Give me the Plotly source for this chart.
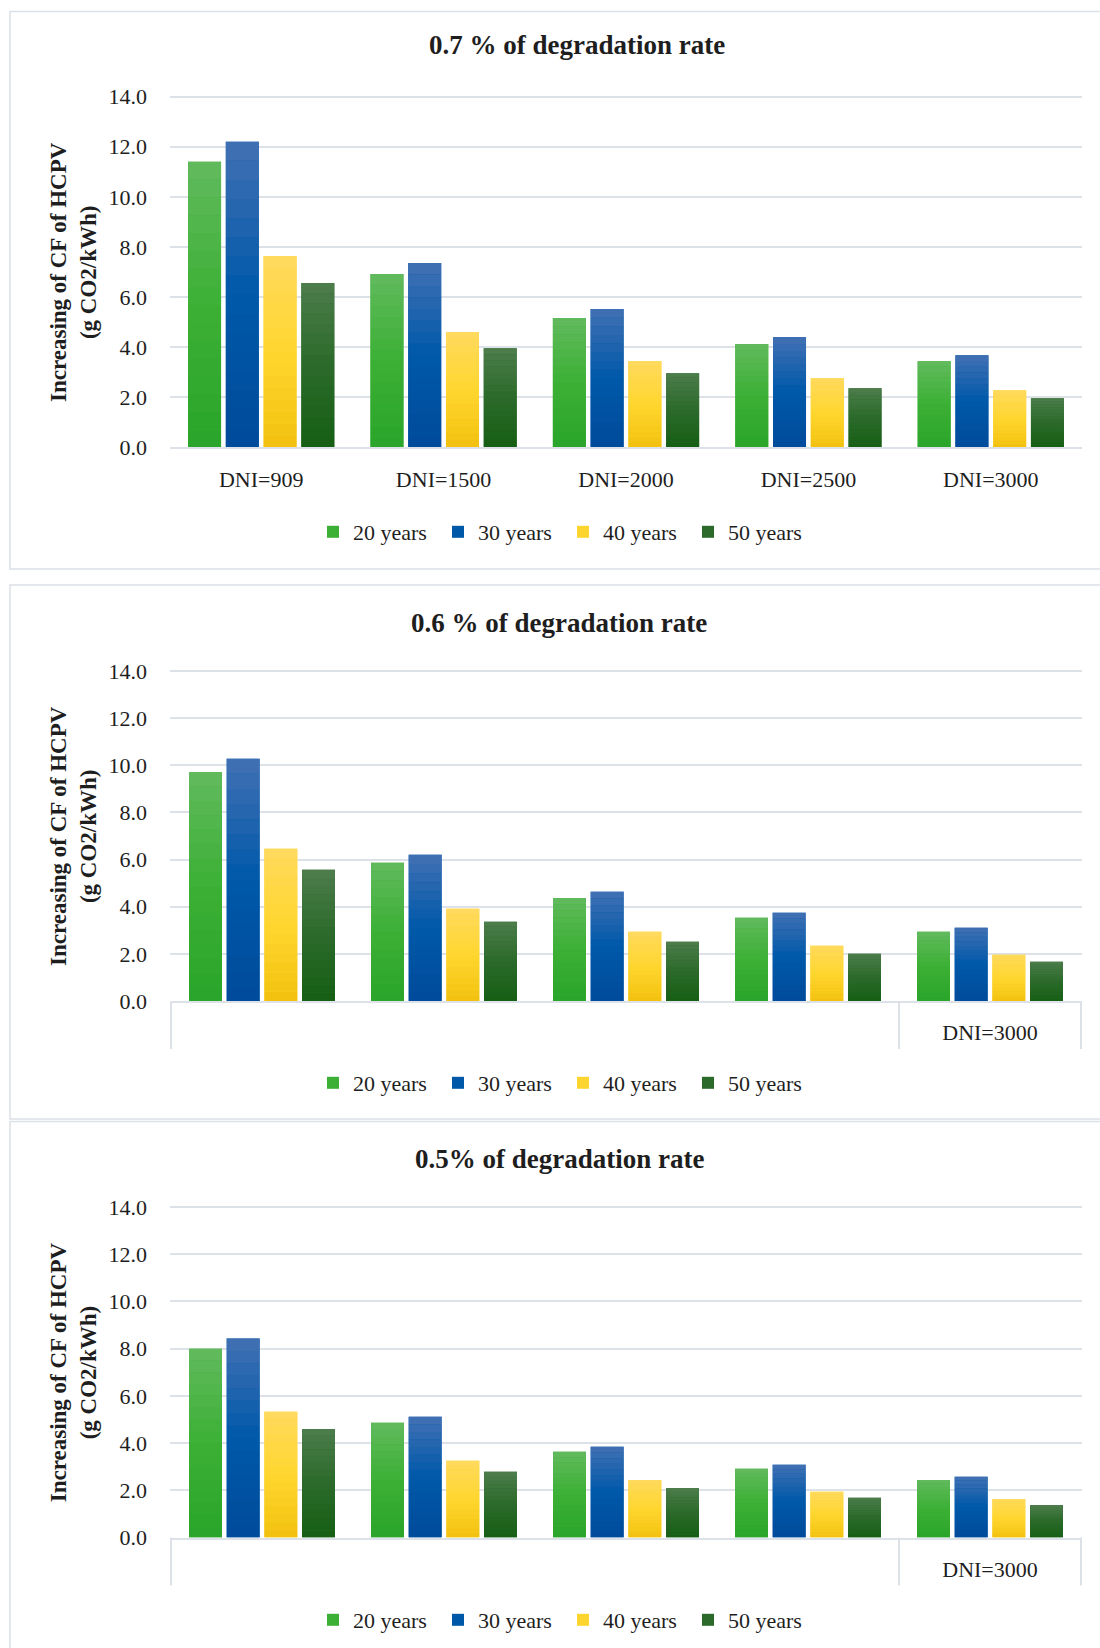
import plotly.graph_objects as go

# ---------------------------------------------------------------- data
categories = ["DNI=909", "DNI=1500", "DNI=2000", "DNI=2500", "DNI=3000"]
series_names = ["20 years", "30 years", "40 years", "50 years"]

# 0.7 % degradation rate
rate07_20y = [11.40, 6.92, 5.16, 4.12, 3.44]
rate07_30y = [12.20, 7.36, 5.52, 4.40, 3.68]
rate07_40y = [7.64, 4.60, 3.44, 2.76, 2.28]
rate07_50y = [6.56, 3.96, 2.96, 2.36, 1.96]

# 0.6 % degradation rate
rate06_20y = [9.70, 5.86, 4.37, 3.53, 2.94]
rate06_30y = [10.28, 6.20, 4.64, 3.74, 3.11]
rate06_40y = [6.46, 3.91, 2.94, 2.34, 1.96]
rate06_50y = [5.57, 3.36, 2.51, 2.00, 1.66]

# 0.5 % degradation rate
rate05_20y = [8.00, 4.86, 3.63, 2.91, 2.44]
rate05_30y = [8.43, 5.11, 3.84, 3.08, 2.57]
rate05_40y = [5.33, 3.25, 2.44, 1.94, 1.63]
rate05_50y = [4.60, 2.78, 2.10, 1.68, 1.38]

panel_titles = ["0.7 % of degradation rate",
                "0.6 % of degradation rate",
                "0.5% of degradation rate"]
y_title = "Increasing of CF of HCPV<br>(g CO2/kWh)"
y_tick_values = [0, 2, 4, 6, 8, 10, 12, 14]
y_max = 14.0

panels = [
    [rate07_20y, rate07_30y, rate07_40y, rate07_50y],
    [rate06_20y, rate06_30y, rate06_40y, rate06_50y],
    [rate05_20y, rate05_30y, rate05_40y, rate05_50y],
]

# ---------------------------------------------------------------- style
W, H = 1100, 1648
FONT = "Liberation Serif"
TEXT = "#1e1e1e"
GRID = "#dde2e9"
FRAME = "#dbe1e8"
series_colors = ["#3cb035", "#0059a8", "#fed52f", "#2b6a2a"]
# vertical fill ramp of each series: (bottom, middle, top)
series_ramps = [
    ("#2aa42a", "#3cb035", "#62ba5e"),
    ("#004a9a", "#0059a9", "#4270b4"),
    ("#f2c10e", "#ffd62f", "#ffda5f"),
    ("#155e14", "#2b6a2a", "#4d7d4c"),
]
RAMP_STEPS = 16


def hex_rgb(h):
    h = h.lstrip("#")
    return [int(h[i:i + 2], 16) for i in (0, 2, 4)]


def ramp_color(ramp, t):
    lo, mid, hi = (hex_rgb(c) for c in ramp)
    if t <= 0.5:
        a, b, u = lo, mid, t / 0.5
    else:
        a, b, u = mid, hi, (t - 0.5) / 0.5
    r, g, bl = (round(a[i] + (b[i] - a[i]) * u) for i in range(3))
    return f"rgb({r},{g},{bl})"


def fx(px):
    return px / W


def fy(py):
    return 1 - py / H


# pixel layout of the three panels: (y of top tick, y of zero line)
plot_rows = [(96.7, 447.3), (671.0, 1001.0), (1207.0, 1537.5)]
title_pos = [(577, 45), (559, 623), (559, 1159)]
legend_y = [532, 1083, 1620]
frames = [(11.5, 569.0), (585.0, 1119.0), (1121.5, 1680.0)]
plot_x = (170.0, 1082.0)
range_pad = 0.14  # a little headroom so the top grid line is drawn

fig = go.Figure()

for p, series in enumerate(panels):
    suffix = "" if p == 0 else str(p + 1)
    legend_name = "legend" + suffix
    for s, vals in enumerate(series):
        group = f"p{p}s{s}"
        # the bar itself
        fig.add_trace(go.Bar(
            x=categories, y=vals, name=series_names[s],
            marker=dict(color=series_colors[s], line=dict(width=0)),
            xaxis="x" + suffix, yaxis="y" + suffix,
            offsetgroup=group, legend=legend_name,
        ))
        # gradient shading laid over the same bar, bottom to top
        for k in range(RAMP_STEPS):
            fig.add_trace(go.Bar(
                x=categories,
                y=[v / RAMP_STEPS for v in vals],
                base=[v * k / RAMP_STEPS for v in vals],
                marker=dict(color=ramp_color(series_ramps[s],
                                             (k + 0.5) / RAMP_STEPS),
                            line=dict(width=0)),
                xaxis="x" + suffix, yaxis="y" + suffix,
                offsetgroup=group, showlegend=False, hoverinfo="skip",
            ))

layout = dict(
    width=W, height=H,
    margin=dict(l=0, r=0, t=0, b=0, autoexpand=False),
    paper_bgcolor="white", plot_bgcolor="white",
    barmode="group", bargap=0.172, bargroupgap=0.126,
    font=dict(family=FONT, color=TEXT, size=22),
    showlegend=True,
)

shapes = []
annotations = []

for p in range(3):
    suffix = "" if p == 0 else str(p + 1)
    top, bottom = plot_rows[p]
    ppu = (bottom - top) / y_max
    dom_top = bottom - (y_max + range_pad) * ppu
    layout["xaxis" + suffix] = dict(
        domain=[fx(plot_x[0]), fx(plot_x[1])],
        anchor="y" + suffix,
        type="category",
        automargin=False,
        showline=True, linecolor=GRID, linewidth=2,
        showgrid=False, zeroline=False,
        ticks="", ticklabelstandoff=11,
        tickfont=dict(family=FONT, size=22, color=TEXT),
        fixedrange=True,
    )
    if p > 0:
        # only the last group carries a label on the lower panels
        layout["xaxis" + suffix]["tickmode"] = "array"
        layout["xaxis" + suffix]["tickvals"] = [categories[-1]]
        layout["xaxis" + suffix]["ticktext"] = [categories[-1]]
    layout["yaxis" + suffix] = dict(
        domain=[fy(bottom), fy(dom_top)],
        anchor="x" + suffix,
        range=[0, y_max + range_pad],
        automargin=False,
        tickmode="array", tickvals=y_tick_values,
        tickformat=".1f",
        showgrid=True, gridcolor=GRID, gridwidth=1.5,
        zeroline=False, showline=False,
        ticks="", ticklabelstandoff=22,
        tickfont=dict(family=FONT, size=22, color=TEXT),
        fixedrange=True,
    )
    layout["legend" + suffix] = dict(
        orientation="h",
        x=fx(563), xanchor="center",
        y=fy(legend_y[p]), yanchor="middle",
        entrywidth=80,
        font=dict(family=FONT, size=22, color=TEXT),
        bgcolor="rgba(0,0,0,0)",
        traceorder="normal",
    )

    # panel frame
    f0, f1 = frames[p]
    shapes.append(dict(type="rect", xref="paper", yref="paper",
                       x0=fx(10), x1=fx(1112), y0=fy(f1), y1=fy(f0),
                       line=dict(color=FRAME, width=1.5), layer="below"))

    # category separators under the axis of the lower panels
    if p > 0:
        depth = 48.0 / (bottom - dom_top)
        for xv in (-0.5, 3.5, 4.5):
            shapes.append(dict(type="line", xref="x" + suffix,
                               yref="y" + suffix + " domain",
                               x0=xv, x1=xv, y0=0, y1=-depth,
                               line=dict(color=GRID, width=2)))

    # panel title
    tx, ty = title_pos[p]
    annotations.append(dict(
        text=panel_titles[p], xref="paper", yref="paper",
        x=fx(tx), y=fy(ty), xanchor="center", yanchor="middle",
        showarrow=False,
        font=dict(family=FONT, size=27, color=TEXT, weight="bold"),
    ))

    # value-axis title
    annotations.append(dict(
        text=y_title, xref="paper", yref="paper",
        x=fx(73), y=fy((top + bottom) / 2),
        xanchor="center", yanchor="middle", textangle=-90,
        showarrow=False,
        font=dict(family=FONT, size=23, color=TEXT, weight="bold"),
    ))

layout["shapes"] = shapes
layout["annotations"] = annotations
fig.update_layout(**layout)

fig.write_html("out.html")
